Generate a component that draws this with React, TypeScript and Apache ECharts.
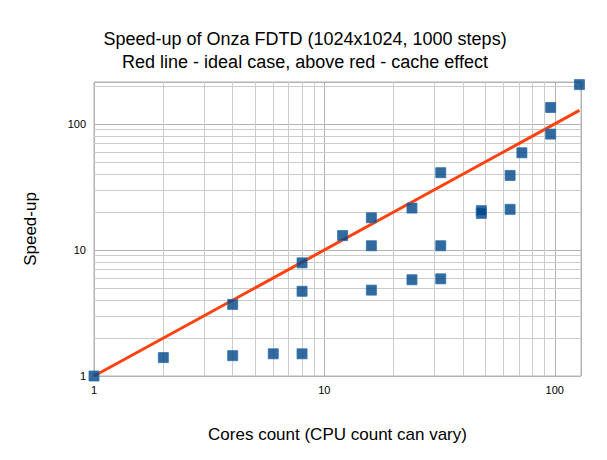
import React, { useEffect, useRef } from 'react';
import * as echarts from 'echarts';

const measured: [number, number][] = [
  [1, 1], [2, 1.4], [4, 1.45], [4, 3.7], [6, 1.5], [8, 1.5], [8, 4.7], [8, 7.9],
  [12, 13], [16, 4.8], [16, 10.8], [16, 18], [24, 5.8], [24, 21.5], [32, 5.9],
  [32, 10.8], [32, 41], [48, 19.5], [48, 20.5], [64, 21], [64, 39], [72, 59],
  [96, 83], [96, 135], [128, 205],
];
const ideal: [number, number][] = [[1, 1], [128, 128]];
const minorX = [2, 3, 4, 5, 6, 7, 8, 9, 20, 30, 40, 50, 60, 70, 80, 90];
const minorY = [2, 3, 4, 5, 6, 7, 8, 9, 20, 30, 40, 50, 60, 70, 80, 90, 200];
const tickLabels = [1, 10, 100];

export default function App() {
  const ref = useRef<HTMLDivElement>(null);
  useEffect(() => {
    if (!ref.current) return;
    const chart = echarts.init(ref.current, null, { renderer: 'svg' });
    const font = 'Liberation Sans';
    const fmt = (v: number) => (tickLabels.includes(Math.round(v)) ? String(Math.round(v)) : '');
    chart.setOption({
      animation: false,
      textStyle: { fontFamily: font },
      title: {
        text: 'Speed-up of Onza FDTD (1024x1024, 1000 steps)\nRed line - ideal case, above red - cache effect',
        left: 292, textAlign: 'center', top: 14,
        textStyle: { fontSize: 18, fontWeight: 'normal', color: '#000', lineHeight: 23, fontFamily: font },
      },
      grid: { left: 86, right: 18, top: 74, bottom: 76, show: true, borderColor: '#b3b3b3', borderWidth: 1 },
      xAxis: {
        type: 'log', min: 1, max: 130,
        name: 'Cores count (CPU count can vary)', nameLocation: 'middle', nameGap: 50,
        nameTextStyle: { fontSize: 17, color: '#000' },
        axisLine: { show: false }, axisTick: { show: false },
        axisLabel: { color: '#000', fontSize: 11, formatter: fmt },
        splitLine: { lineStyle: { color: '#b3b3b3' } },
      },
      yAxis: {
        type: 'log', min: 1, max: 215,
        name: 'Speed-up', nameLocation: 'middle', nameGap: 55,
        nameTextStyle: { fontSize: 17, color: '#000' },
        axisLine: { show: false }, axisTick: { show: false },
        axisLabel: { color: '#000', fontSize: 11, formatter: fmt },
        splitLine: { lineStyle: { color: '#b3b3b3' } },
      },
      series: [
        {
          type: 'line', data: [], silent: true, z: 0, zlevel: 0,
          markLine: {
            silent: true, symbol: 'none', label: { show: false }, z: 0,
            lineStyle: { color: '#cccccc', type: 'solid', width: 1 },
            data: [...minorX.map((v) => ({ xAxis: v })), ...minorY.map((v) => ({ yAxis: v }))],
          },
        },
        {
          type: 'line', data: ideal, symbol: 'none',
          lineStyle: { color: '#ff420e', width: 3 }, z: 5,
        },
        {
          type: 'scatter', data: measured, symbol: 'rect', symbolSize: 10,
          itemStyle: { color: '#004586', borderColor: '#2a6fb0', borderWidth: 1 }, z: 10,
        },
      ],
    });
    return () => chart.dispose();
  }, []);
  return <div ref={ref} style={{ width: 591, height: 444 }} />;
}
